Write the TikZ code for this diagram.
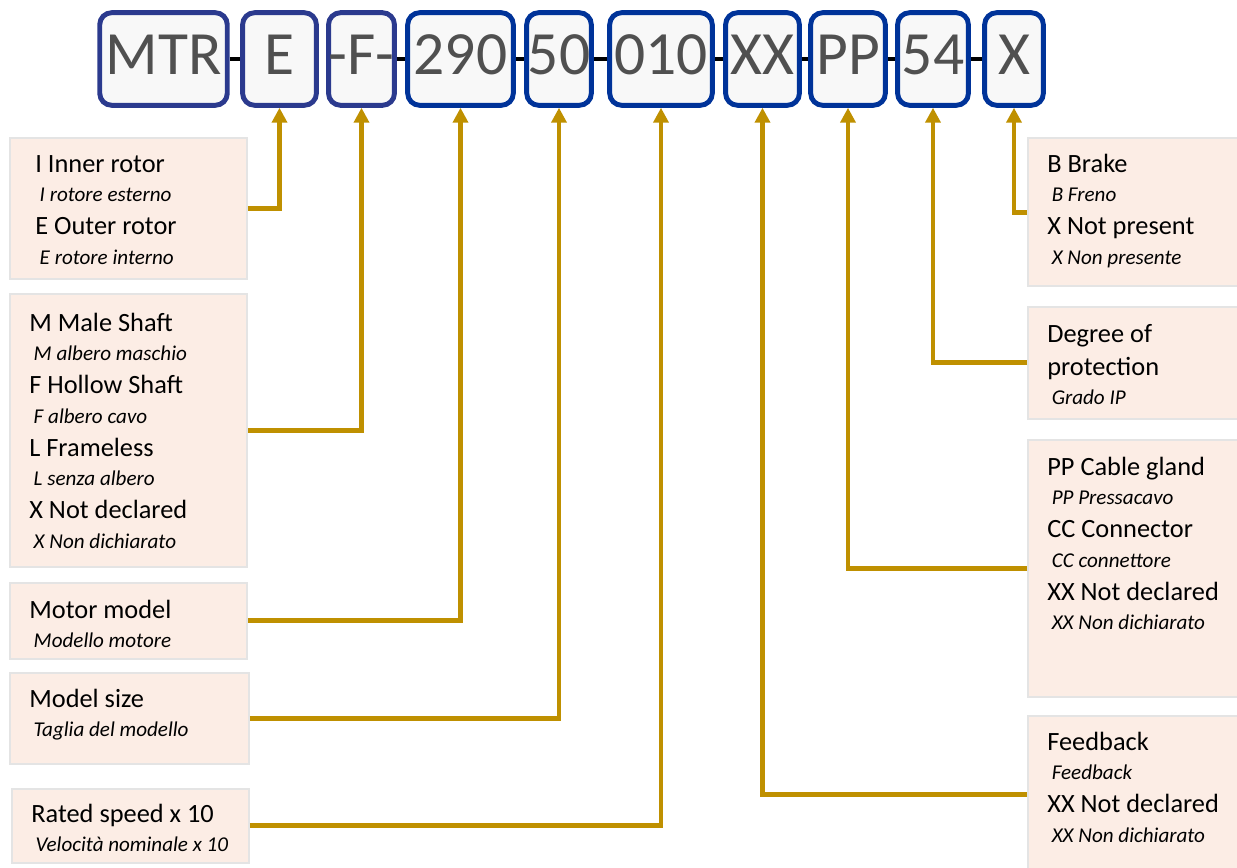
\documentclass[tikz,border=0pt]{standalone}
\usepackage{fontspec}
\setmainfont{Carlito}
\usetikzlibrary{arrows.meta,positioning}

\definecolor{codeblue}{HTML}{003399}
\definecolor{codeindigo}{HTML}{2B3A8E}
\definecolor{codegray}{HTML}{505050}
\definecolor{codefill}{HTML}{F8F8F8}
\definecolor{optfill}{HTML}{FCEDE5}
\definecolor{optedge}{HTML}{E4E4E4}
\definecolor{linkgold}{HTML}{BF9000}

% first line strut and italic translation line
\newcommand{\firstl}{\rule{0pt}{12pt}}
\newcommand{\itl}[1]{{\fontsize{12}{13}\selectfont\itshape\hspace*{2.5pt}#1}}

\tikzset{
  codebox/.style={draw=codeblue, fill=codefill, line width=2.8pt, rounded corners=6.8pt,
    minimum height=52.7pt, inner sep=0pt, text=codegray,
    font=\fontsize{35}{35}\selectfont, text height=22pt, text depth=4pt},
  optbox/.style={draw=optedge, fill=optfill, line width=1.1pt, anchor=north west, inner sep=0pt},
  opttext/.style={anchor=north west, inner sep=0pt, align=left, font=\fontsize{15}{16.7}\selectfont},
  link/.style={draw=linkgold, line width=2.8pt, -{Triangle[width=8.5pt,length=8.5pt]}},
  hyph/.style={line width=2.2pt, black}
}

\begin{document}
\begin{tikzpicture}[x=0.02cm, y=-0.02cm]
    \useasboundingbox (0,0) rectangle (1237,868);

    % code boxes
    \node[codebox, draw=codeindigo, minimum width=72.6pt] (mtr) at (163.5,59) {MTR};
    \node[codebox, draw=codeindigo, minimum width=42pt] (e) at (279.5,59) {E};
    \node[codebox, draw=codeindigo, minimum width=35.1pt] (f) at (361.5,59) {-F-};
    \node[codebox, minimum width=60.1pt] (c290) at (460.5,59) {290};
    \node[codebox, minimum width=36.8pt] (c50) at (559,59) {50};
    \node[codebox, minimum width=58.4pt] (c010) at (661,59) {010};
    \node[codebox, minimum width=42pt] (xx) at (762.5,59) {XX};
    \node[codebox, minimum width=42.5pt] (pp) at (848,59) {PP};
    \node[codebox, minimum width=40.3pt] (c54) at (933,59) {54};
    \node[codebox, minimum width=33.4pt] (x) at (1014,59) {X};

    \draw[hyph] (mtr.east) -- (e.west);
    \draw[hyph] (f.east) -- (c290.west);
    \draw[hyph] (c290.east) -- (c50.west);
    \draw[hyph] (c50.east) -- (c010.west);
    \draw[hyph] (c010.east) -- (xx.west);
    \draw[hyph] (xx.east) -- (pp.west);
    \draw[hyph] (pp.east) -- (c54.west);
    \draw[hyph] (c54.east) -- (x.west);

    % left option boxes
    \node[optbox, minimum width=134.9pt, minimum height=80.5pt] (opt-rotor) at (9,137) {};
    \node[optbox, minimum width=134.9pt, minimum height=155.3pt] (opt-shaft) at (9,293) {};
    \node[optbox, minimum width=134.9pt, minimum height=43.1pt] (opt-model) at (9,582) {};
    \node[optbox, minimum width=136pt, minimum height=51.6pt] (opt-size) at (9,672) {};
    \node[optbox, minimum width=134.9pt, minimum height=42pt] (opt-speed) at (11,788) {};

    \node[opttext] (txt-rotor) at (35,150.8) {\firstl I Inner rotor\\ \itl{I rotore esterno}\\[2.2pt]
      E Outer rotor\\ \itl{E rotore interno}};
    \node[opttext] (txt-shaft) at (29,309.8) {\firstl M Male Shaft\\ \itl{M albero maschio}\\[2.2pt]
      F Hollow Shaft\\ \itl{F albero cavo}\\[2.2pt]
      L Frameless\\ \itl{L senza albero}\\[2.2pt]
      X Not declared\\ \itl{X Non dichiarato}};
    \node[opttext] (txt-model) at (29,596.8) {\firstl Motor model\\ \itl{Modello motore}};
    \node[opttext] (txt-size) at (29,685.8) {\firstl Model size\\ \itl{Taglia del modello}};
    \node[opttext] (txt-speed) at (31,801.2) {\firstl Rated speed x 10\\ \itl{Velocità nominale x 10}};

    % right option boxes
    \node[optbox, minimum width=123.6pt, minimum height=84.5pt] (opt-brake) at (1027,137) {};
    \node[optbox, minimum width=123.6pt, minimum height=63.5pt] (opt-ip) at (1027,306) {};
    \node[optbox, minimum width=123.6pt, minimum height=146.3pt] (opt-conn) at (1027,439) {};
    \node[optbox, minimum width=123.6pt, minimum height=89.6pt] (opt-fb) at (1027,715) {};

    \node[opttext] (txt-brake) at (1047,150.8) {\firstl B Brake\\ \itl{B Freno}\\[2.2pt]
      X Not present\\ \itl{X Non presente}};
    \node[opttext] (txt-ip) at (1047,320.8) {\firstl Degree of\\[2.2pt] protection\\ \itl{Grado IP}};
    \node[opttext] (txt-conn) at (1047,453.8) {\firstl PP Cable gland\\ \itl{PP Pressacavo}\\[2.2pt]
      CC Connector\\ \itl{CC connettore}\\[2.2pt]
      XX Not declared\\ \itl{XX Non dichiarato}};
    \node[opttext] (txt-fb) at (1047,728.8) {\firstl Feedback\\ \itl{Feedback}\\[2.2pt]
      XX Not declared\\ \itl{XX Non dichiarato}};

    % connectors
    \draw[link] (opt-rotor.east) -| (e.south);
    \draw[link] (opt-shaft.east) -| (f.south);
    \draw[link] (opt-model.east) -| (c290.south);
    \draw[link] (opt-size.east) -| (c50.south);
    \draw[link] (opt-speed.east) -| (c010.south);
    \draw[link] (opt-fb.west) -| (xx.south);
    \draw[link] (opt-conn.west) -| (pp.south);
    \draw[link] (opt-ip.west) -| (c54.south);
    \draw[link] (opt-brake.west) -| (x.south);
\end{tikzpicture}
\end{document}
